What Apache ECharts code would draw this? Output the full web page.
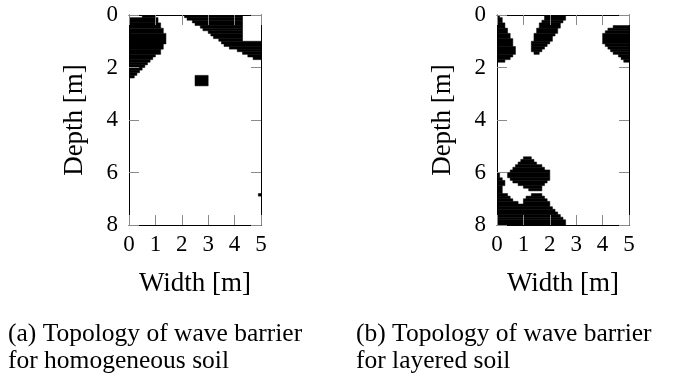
<!DOCTYPE html>
<html>
<head>
<meta charset="utf-8">
<script src="https://cdn.jsdelivr.net/npm/echarts@6/dist/echarts.min.js"></script>
<style>
  html, body { margin: 0; padding: 0; background: #ffffff; }
  #chart { width: 687px; height: 380px; }
</style>
</head>
<body>
<div id="chart"></div>
<script>
// Design domain: 5 m wide, 8 m deep, discretised in 0.1 m cells.
const CELL = 0.1;
const widthRange = [0, 5];
const depthRange = [0, 8];
const widthStep = 1;
const depthStep = 2;

// Solid (barrier) cells as runs: [firstRow, lastRow, firstCol, lastCol], inclusive.
const homogeneousRuns = [
  // upper-left lobe
  [0, 0, 5, 9], [1, 2, 0, 10], [3, 4, 0, 11], [5, 6, 0, 12], [7, 10, 0, 13],
  [11, 12, 0, 12], [13, 14, 0, 11], [15, 15, 0, 9], [16, 16, 0, 8], [17, 17, 0, 7],
  [18, 18, 0, 6], [19, 19, 0, 5], [20, 20, 0, 4], [21, 21, 0, 3], [22, 22, 0, 2],
  [23, 23, 0, 1],
  // upper-right band
  [0, 0, 21, 42], [1, 1, 22, 42], [2, 2, 24, 42], [3, 3, 25, 42], [4, 4, 27, 42],
  [5, 5, 28, 42], [6, 6, 30, 42], [7, 7, 31, 42], [8, 8, 32, 42], [9, 9, 34, 42],
  [10, 10, 35, 49], [11, 11, 36, 49], [12, 12, 38, 49], [13, 13, 41, 49],
  [14, 14, 43, 49], [15, 15, 45, 49], [16, 16, 47, 49],
  // isolated block and single cell
  [23, 26, 25, 29],
  [68, 68, 49, 49]
];

const layeredRuns = [
  // left edge lobe
  [0, 0, 0, 0], [1, 2, 0, 1], [3, 4, 0, 2], [5, 6, 0, 3], [7, 8, 0, 4],
  [9, 11, 0, 5], [12, 14, 0, 6], [15, 15, 0, 5], [16, 16, 0, 4], [17, 17, 0, 2],
  // slanted strip
  [0, 1, 18, 25], [2, 2, 17, 24], [3, 4, 16, 23], [5, 6, 15, 22], [7, 7, 14, 21],
  [8, 9, 14, 20], [10, 10, 13, 19], [11, 11, 13, 18], [12, 12, 13, 17],
  [13, 13, 13, 16], [14, 14, 14, 15],
  // right edge lobe
  [4, 4, 44, 49], [5, 5, 42, 49], [6, 6, 41, 49], [7, 10, 40, 49], [11, 11, 41, 49],
  [12, 12, 42, 49], [13, 13, 43, 49], [14, 14, 44, 49], [15, 15, 46, 49],
  [16, 16, 47, 49], [17, 17, 48, 49],
  // diamond
  [54, 54, 10, 12], [55, 55, 9, 13], [56, 56, 8, 14], [57, 57, 7, 16], [58, 58, 6, 17],
  [59, 59, 5, 19], [60, 61, 4, 19], [62, 62, 5, 19], [63, 63, 6, 18], [64, 64, 8, 17],
  [65, 65, 10, 16], [66, 66, 12, 16],
  // bottom mass with enclosed void
  [60, 61, 0, 0], [62, 62, 0, 1], [63, 64, 0, 2], [65, 67, 0, 1],
  [68, 68, 0, 3], [68, 68, 13, 16],
  [69, 69, 0, 4], [69, 69, 11, 17],
  [70, 70, 0, 5], [70, 70, 10, 18],
  [71, 71, 0, 7], [71, 71, 10, 19],
  [72, 72, 0, 19], [73, 73, 0, 20], [74, 74, 0, 21], [75, 75, 0, 22],
  [76, 76, 0, 23], [77, 77, 0, 24], [78, 79, 0, 25]
];

const widthLabel = 'Width [m]';
const depthLabel = 'Depth [m]';
const captionA = ['(a) Topology of wave barrier', 'for homogeneous soil'];
const captionB = ['(b) Topology of wave barrier', 'for layered soil'];

const FONT = '"Liberation Serif", "Times New Roman", serif';
const gridLefts = [129, 497];
const captionLefts = [8, 356];
const GRID_TOP = 15, GRID_W = 132, GRID_H = 210;

function toRects(runs) {
  return runs.map(r => [r[2] * CELL, (r[3] + 1) * CELL, r[0] * CELL, (r[1] + 1) * CELL]);
}

function renderCell(params, api) {
  const a = api.coord([api.value(0), api.value(2)]);
  const b = api.coord([api.value(1), api.value(3)]);
  return {
    type: 'rect',
    shape: {
      x: Math.min(a[0], b[0]), y: Math.min(a[1], b[1]),
      width: Math.abs(b[0] - a[0]), height: Math.abs(b[1] - a[1])
    },
    style: { fill: '#000', stroke: '#000', lineWidth: 0.5 }
  };
}

const frameLine = { show: true, onZero: false, lineStyle: { color: '#000', width: 1 } };
const innerTick = { show: true, inside: true, length: 10, lineStyle: { color: '#8a8a8a', width: 1 } };

const xAxes = [], yAxes = [], grids = [], series = [];
gridLefts.forEach((left, g) => {
  grids.push({ left: left, top: GRID_TOP, width: GRID_W, height: GRID_H, containLabel: false });
  xAxes.push({
    type: 'value', gridIndex: g, position: 'bottom', z: 10,
    min: widthRange[0], max: widthRange[1], interval: widthStep,
    axisLine: frameLine, axisTick: innerTick, splitLine: { show: false },
    axisLabel: { margin: 8, fontFamily: FONT, fontSize: 23, color: '#000' },
    name: widthLabel, nameLocation: 'middle', nameGap: 45,
    nameTextStyle: { fontFamily: FONT, fontSize: 27, color: '#000' }
  });
  xAxes.push({
    type: 'value', gridIndex: g, position: 'top', z: 10,
    min: widthRange[0], max: widthRange[1], interval: widthStep,
    axisLine: frameLine, axisTick: innerTick, splitLine: { show: false },
    axisLabel: { show: false }
  });
  yAxes.push({
    type: 'value', gridIndex: g, position: 'left', inverse: true, z: 10,
    min: depthRange[0], max: depthRange[1], interval: depthStep,
    axisLine: frameLine, axisTick: innerTick, splitLine: { show: false },
    axisLabel: { margin: 11, padding: [8, 0, 0, 0], fontFamily: FONT, fontSize: 23, color: '#000' },
    name: depthLabel, nameLocation: 'middle', nameGap: 41, nameRotate: 90,
    nameTextStyle: { fontFamily: FONT, fontSize: 27, color: '#000' }
  });
  yAxes.push({
    type: 'value', gridIndex: g, position: 'right', inverse: true, z: 10,
    min: depthRange[0], max: depthRange[1], interval: depthStep,
    axisLine: frameLine, axisTick: innerTick, splitLine: { show: false },
    axisLabel: { show: false }
  });
  series.push({
    type: 'custom', xAxisIndex: 2 * g, yAxisIndex: 2 * g, z: 2, clip: true,
    silent: true, animation: false,
    encode: { x: [0, 1], y: [2, 3] },
    renderItem: renderCell,
    data: toRects(g === 0 ? homogeneousRuns : layeredRuns)
  });
});

function captionText(text, x, y) {
  return {
    type: 'text', x: x, y: y, silent: true,
    style: {
      text: text, fill: '#000', font: '25.5px ' + FONT,
      align: 'left', verticalAlign: 'middle', textAlign: 'left', textVerticalAlign: 'middle'
    }
  };
}

const chart = echarts.init(document.getElementById('chart'), null, { renderer: 'canvas' });
chart.setOption({
  animation: false,
  backgroundColor: '#ffffff',
  grid: grids,
  xAxis: xAxes,
  yAxis: yAxes,
  series: series,
  graphic: [
    captionText(captionA[0], captionLefts[0], 334.5),
    captionText(captionA[1], captionLefts[0], 361),
    captionText(captionB[0], captionLefts[1], 334.5),
    captionText(captionB[1], captionLefts[1], 361)
  ]
});
</script>
</body>
</html>
